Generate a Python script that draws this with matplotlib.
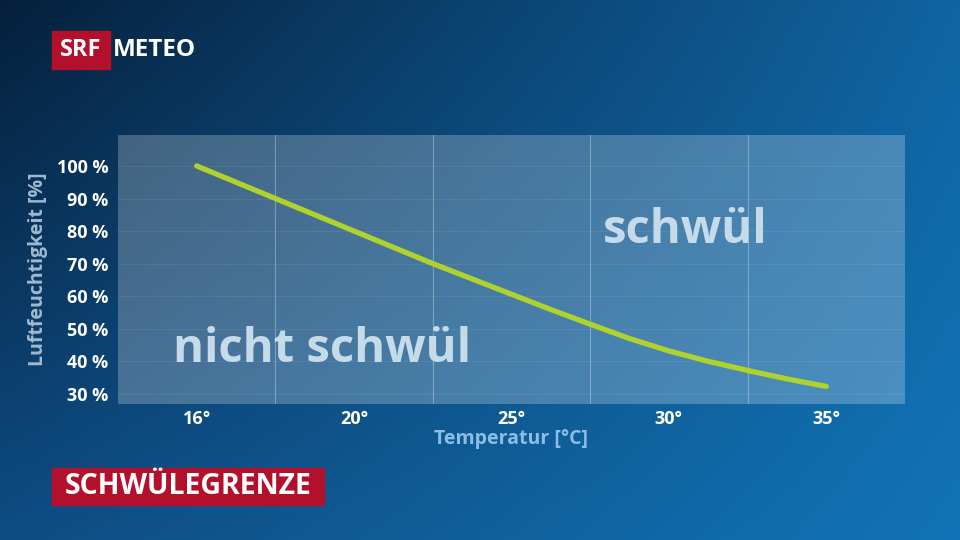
import matplotlib
matplotlib.use("Agg")
import matplotlib.pyplot as plt
from matplotlib.patches import Rectangle
import numpy as np

# Schwuelegrenze: relative Feuchte ab der es schwuel wird
temps = [16, 20, 25, 30, 35]
temp_labels = ["16°", "20°", "25°", "30°", "35°"]
kurve_pos = [0, 0.5, 1, 1.5, 2, 2.25, 2.5, 2.75, 3, 3.25, 3.5, 3.75, 4]
kurve_feuchte = [100, 90, 80, 70, 60.6, 55.9, 51.4, 47, 43.2, 40, 37.2, 34.6, 32.3]
feuchte_ticks = [30, 40, 50, 60, 70, 80, 90, 100]

plt.rcParams['font.family'] = ['Open Sans', 'DejaVu Sans']

fig = plt.figure(figsize=(9.6, 5.4), dpi=100)

# Hintergrund-Verlauf
bg = fig.add_axes([0, 0, 1, 1], zorder=-10)
gx, gy = np.meshgrid(np.linspace(0, 1, 240), np.linspace(0, 1, 135))
tl = np.array([6, 32, 60]) / 255
tr = np.array([16, 100, 162]) / 255
bl = np.array([14, 76, 130]) / 255
br = np.array([18, 116, 182]) / 255
img = ((1 - gx)[..., None] * (1 - gy)[..., None] * tl + gx[..., None] * (1 - gy)[..., None] * tr
       + (1 - gx)[..., None] * gy[..., None] * bl + gx[..., None] * gy[..., None] * br)
bg.imshow(img, aspect='auto', extent=[0, 1, 0, 1], origin='upper')
bg.axis('off')

ax = fig.add_axes([118 / 960, 1 - 404 / 540, 787 / 960, 269 / 540])
ax.set_facecolor((1, 1, 1, 0.24))
for s in ax.spines.values():
    s.set_visible(False)

ax.set_xlim(-0.5, 4.5)
ax.set_ylim(26.9, 109.5)

for v in feuchte_ticks:
    ax.axhline(v, color='white', alpha=0.07, lw=0.8, zorder=1)
for p in np.arange(len(temps) - 1) + 0.5:
    ax.axvline(p, color='white', alpha=0.3, lw=0.8, zorder=1)

ax.plot(kurve_pos, kurve_feuchte, color='#afd22e', lw=3.8, solid_capstyle='round', zorder=5)

ax.set_xticks(range(len(temps)))
ax.set_xticklabels(temp_labels)
ax.set_yticks(feuchte_ticks)
ax.set_yticklabels([f"{v} %" for v in feuchte_ticks])
ax.tick_params(length=0, colors='white', labelsize=13)
ax.tick_params(axis='x', pad=4)
ax.tick_params(axis='y', pad=7)
for lab in ax.get_xticklabels() + ax.get_yticklabels():
    lab.set_fontweight('bold')

ax.set_xlabel("Temperatur [°C]", color='#8cbde6', fontsize=14, fontweight='bold', labelpad=1)
ax.set_ylabel("Luftfeuchtigkeit [%]", color='#9fb9d0', fontsize=14, fontweight='bold', labelpad=6)

ax.text(-0.15, 39.8, "nicht schwül", color='#c6dbea', fontsize=34, fontweight='bold',
        va='baseline', ha='left', zorder=4)
ax.text(2.58, 76.4, "schwül", color='#c6dbea', fontsize=34, fontweight='bold',
        va='baseline', ha='left', zorder=4)

# Logo
rot = '#b3112b'
fig.patches.append(Rectangle((52 / 960, 1 - 69 / 540), 58 / 960, 38 / 540,
                             transform=fig.transFigure, color=rot, zorder=2))
fig.text(81 / 960, 1 - 50 / 540, "SRF", color='white', fontsize=17, fontweight='bold',
         ha='center', va='center')
fig.text(113 / 960, 1 - 50 / 540, "METEO", color='white', fontsize=17.5, fontweight='bold',
         ha='left', va='center')

# Titel
fig.patches.append(Rectangle((52 / 960, 1 - 505 / 540), 272 / 960, 37 / 540,
                             transform=fig.transFigure, color=rot, zorder=2))
fig.text(188 / 960, 1 - 487 / 540, "SCHWÜLEGRENZE", color='white', fontsize=20.5, fontweight='bold',
         ha='center', va='center')

fig.savefig("out.png", dpi=100)
